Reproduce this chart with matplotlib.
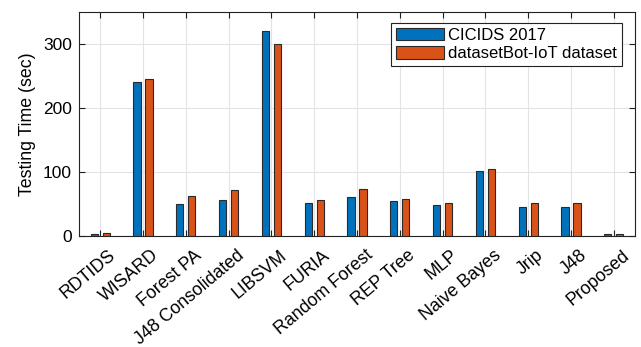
import matplotlib as mpl
mpl.use('Agg')

import numpy as np
import matplotlib.pyplot as plt
import matplotlib.transforms as mtransforms

plt.rcParams['font.family'] = ['Liberation Sans', 'DejaVu Sans']

methods = ["RDTIDS", "WISARD", "Forest PA", "J48 Consolidated", "LIBSVM", "FURIA",
           "Random Forest", "REP Tree", "MLP", "Naive Bayes", "Jrip", "J48", "Proposed"]
cicids = [3, 240, 50, 56, 320, 51, 61, 55, 49, 102, 45, 45, 3]
botiot = [4, 245, 62, 72, 300, 56, 73, 58, 52, 105, 51, 51, 3]

x = np.arange(1, len(methods) + 1)
w = 0.17
off = 0.14

fig = plt.figure(figsize=(6.41, 3.47), dpi=100)
ax = fig.add_axes([0.123, 0.32, 0.868, 0.645])

ax.bar(x - off, cicids, w, color='#0072BD', edgecolor='#2a2a2a', linewidth=0.8,
       label='CICIDS 2017', zorder=3)
ax.bar(x + off, botiot, w, color='#D95319', edgecolor='#2a2a2a', linewidth=0.8,
       label='datasetBot-IoT dataset', zorder=3)

ax.set_xlim(0.5, 13.5)
ax.set_ylim(0, 350)
ax.set_xticks(x)
ax.set_yticks([0, 100, 200, 300])
ax.tick_params(axis='y', labelsize=12.5, pad=5)
ax.tick_params(direction='in', top=True, right=True, length=4, color='#222222')
ax.set_xticklabels(methods, rotation=40, ha='right', rotation_mode='anchor', fontsize=12.8)
# push rotated labels a little right and down (after tick_params, which resets transforms)
shift = mtransforms.ScaledTranslation(8 / 100, -6 / 100, fig.dpi_scale_trans)
for lab in ax.get_xticklabels():
    lab.set_transform(lab.get_transform() + shift)
ax.set_ylabel('Testing Time (sec)', fontsize=12.8, labelpad=5)
ax.grid(True, color='#e3e3e3', linewidth=0.8, zorder=0)
ax.set_axisbelow(True)
for s in ax.spines.values():
    s.set_color('#222222')
    s.set_linewidth(0.8)

leg = ax.legend(loc='upper right', bbox_to_anchor=(0.9766, 0.951), borderaxespad=0,
                fontsize=12, fancybox=False, framealpha=1,
                edgecolor='#222222', handlelength=2.9, handleheight=0.76,
                borderpad=0.3, labelspacing=0.2, handletextpad=0.25)
leg.get_frame().set_linewidth(0.8)

plt.savefig("out.png", dpi=100)
